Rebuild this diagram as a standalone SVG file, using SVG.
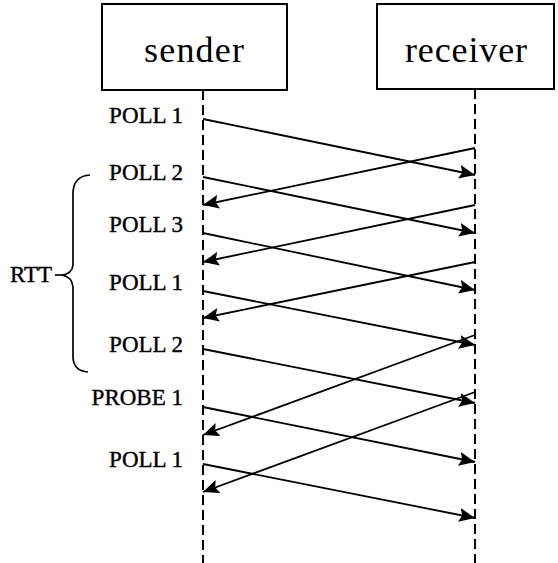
<svg xmlns="http://www.w3.org/2000/svg" width="558" height="563" viewBox="0 0 558 563">
<defs>
<style>
.box{fill:#fff;stroke:#000;stroke-width:2}
.life{stroke:#000;stroke-width:2;stroke-dasharray:10 5;fill:none}
.msg{stroke:#000;stroke-width:1.8;fill:none;marker-end:url(#ah)}
.lbl{font-family:"Liberation Serif","Times New Roman",serif;font-size:23px;fill:#000;stroke:#000;stroke-width:0.4;text-anchor:end}
.title{font-family:"Liberation Serif","Times New Roman",serif;font-size:36px;fill:#000;text-anchor:middle}
</style>
<marker id="ah" markerUnits="userSpaceOnUse" markerWidth="17" markerHeight="15" refX="16" refY="7" orient="auto">
<path d="M0,0 L16,7 L0,14 L3,7 Z" fill="#000"/>
</marker>
</defs>
<rect width="558" height="563" fill="#fff"/>
<g id="sender">
<rect class="box" x="102" y="4" width="185" height="86"/>
<text class="title" x="194" y="62" textLength="100" lengthAdjust="spacing">sender</text>
<line class="life" x1="203" y1="90" x2="203" y2="563"/>
</g>
<g id="receiver">
<rect class="box" x="377" y="4" width="177" height="85"/>
<text class="title" x="466" y="62" textLength="122" lengthAdjust="spacing">receiver</text>
<line class="life" x1="475" y1="89" x2="475" y2="563"/>
</g>
<g id="labels">
<text class="lbl" x="183" y="123">POLL 1</text>
<text class="lbl" x="183" y="180">POLL 2</text>
<text class="lbl" x="183" y="232">POLL 3</text>
<text class="lbl" x="183" y="290">POLL 1</text>
<text class="lbl" x="183" y="352">POLL 2</text>
<text class="lbl" x="183" y="405">PROBE 1</text>
<text class="lbl" x="183" y="467">POLL 1</text>
</g>
<g id="rtt">
<path d="M90,175 Q74,176 73,192 L73,265 Q72,274 62,275 Q72,277 73,287 L73,358 Q74,371 88,372" fill="none" stroke="#000" stroke-width="1.7"/>
<line x1="55" y1="275" x2="62" y2="275" stroke="#000" stroke-width="1.7"/>
<text x="10" y="282" font-family="Liberation Serif, Times New Roman, serif" font-size="23" fill="#000" stroke="#000" stroke-width="0.4">RTT</text>
</g>
<g id="connectors">
<line class="msg" x1="203" y1="119" x2="475" y2="175"/>
<line class="msg" x1="203" y1="177" x2="475" y2="233"/>
<line class="msg" x1="203" y1="233" x2="475" y2="290"/>
<line class="msg" x1="203" y1="291" x2="475" y2="345"/>
<line class="msg" x1="203" y1="349" x2="475" y2="403"/>
<line class="msg" x1="203" y1="407" x2="475" y2="462"/>
<line class="msg" x1="203" y1="464" x2="475" y2="518"/>
<line class="msg" x1="475" y1="148" x2="203" y2="205"/>
<line class="msg" x1="475" y1="205" x2="203" y2="262"/>
<line class="msg" x1="475" y1="262" x2="203" y2="318"/>
<line class="msg" x1="475" y1="335" x2="203" y2="435"/>
<line class="msg" x1="475" y1="392" x2="203" y2="492"/>
</g>
</svg>
